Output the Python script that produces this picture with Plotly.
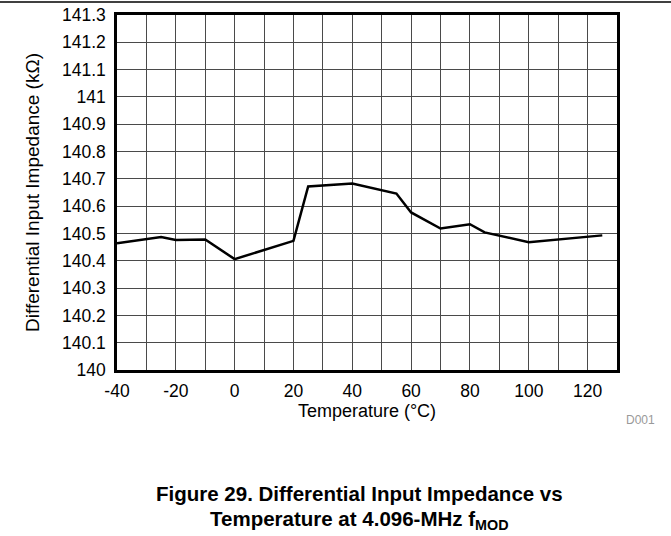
import plotly.graph_objects as go

temperature_c = [-40, -25, -20, -10, 0, 20, 25, 40, 55, 60, 70, 80, 85, 100, 125]
impedance_kohm = [140.464, 140.487, 140.476, 140.478, 140.406, 140.473, 140.672,
                  140.683, 140.646, 140.577, 140.518, 140.534, 140.504, 140.468, 140.493]

x_ticks = [-40, -20, 0, 20, 40, 60, 80, 100, 120]
x_tick_labels = ["-40", "-20", "0", "20", "40", "60", "80", "100", "120"]

W, H = 671, 536
L, R, T, B = 117, 54, 15, 166
pw, ph = W - L - R, H - T - B

fig = go.Figure()
fig.add_trace(go.Scatter(x=temperature_c, y=impedance_kohm, mode="lines",
                         line=dict(color="black", width=2.5), showlegend=False))

font = "Liberation Sans, Arial, sans-serif"
grid = "#4a4a4a"
fs = 17.5
fig.update_layout(
    width=W, height=H, margin=dict(l=L, r=R, t=T, b=B, autoexpand=False),
    plot_bgcolor="white", paper_bgcolor="white",
    font=dict(family=font, size=fs, color="black"),
    xaxis=dict(range=[-40, 130], tickvals=x_ticks, ticktext=x_tick_labels,
               showgrid=True, gridcolor=grid, gridwidth=1,
               minor=dict(dtick=10, tick0=-40, showgrid=True, gridcolor=grid, gridwidth=1),
               showline=True, linecolor="black", linewidth=2.5, mirror=True,
               ticks="", zeroline=False, automargin=False, tickfont=dict(size=fs),
               ticklabelstandoff=3,
               title=dict(text="Temperature (°C)", standoff=0, font=dict(size=18))),
    yaxis=dict(range=[140, 141.3], dtick=0.1, tick0=140, showgrid=True, gridcolor=grid, gridwidth=1,
               showline=True, linecolor="black", linewidth=2.5, mirror=True,
               ticks="", zeroline=False, ticklabelstandoff=5, automargin=False, tickfont=dict(size=fs),
               title=dict(text="Differential Input Impedance (kΩ)", standoff=18, font=dict(size=19))),
)

def px(x):
    return (x - L) / pw

def py(y):
    return (H - B - y) / ph

# header rule
fig.add_shape(type="line", xref="paper", yref="paper",
              x0=px(0), x1=px(W), y0=py(2), y1=py(2),
              line=dict(color="black", width=1.5))

fig.add_annotation(text="D001", x=px(640), y=py(420), xref="paper", yref="paper",
                   xanchor="center", yanchor="middle",
                   showarrow=False, font=dict(size=12, color="#999999"))
fig.add_annotation(text="<b>Figure 29. Differential Input Impedance vs</b>", x=px(359), y=py(493),
                   xref="paper", yref="paper", xanchor="center", yanchor="middle",
                   showarrow=False, font=dict(size=20.5, color="black"))
fig.add_annotation(text="<b>Temperature at 4.096-MHz f<sub>MOD</sub></b>", x=px(359), y=py(520),
                   xref="paper", yref="paper", xanchor="center", yanchor="middle",
                   showarrow=False, font=dict(size=20.5, color="black"))

fig.write_html("out.html", config={"displayModeBar": False},
               post_script="document.body.style.margin='0';document.body.style.overflow='hidden';")
